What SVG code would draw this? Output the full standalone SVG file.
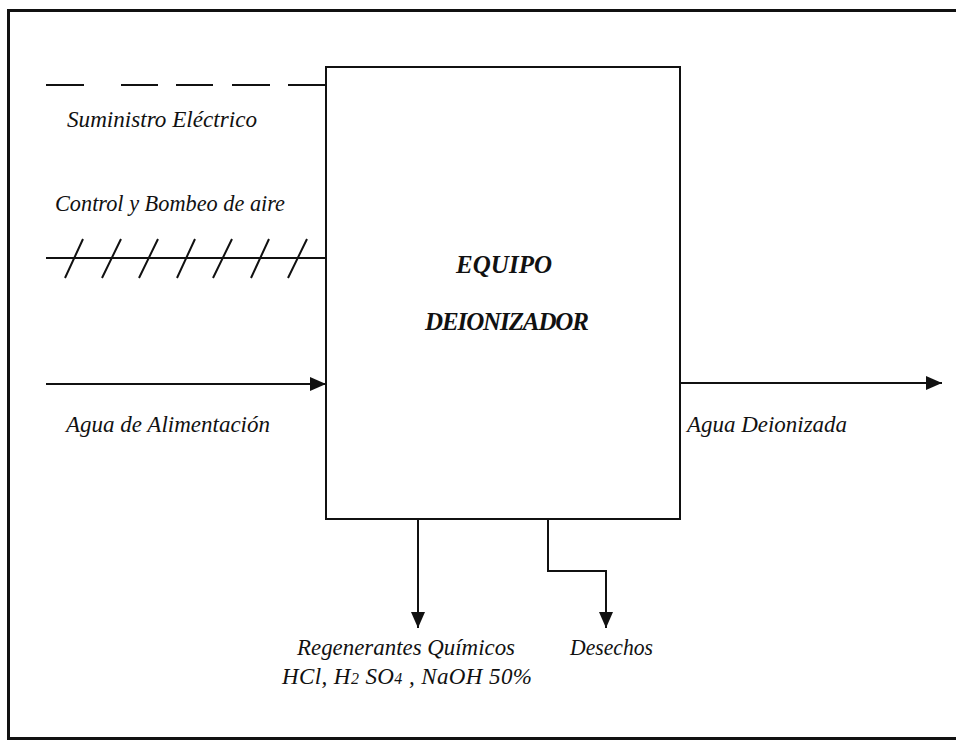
<svg xmlns="http://www.w3.org/2000/svg" width="956" height="740" viewBox="0 0 956 740">
<style>
.ln{stroke:#111;stroke-width:2;fill:none}
.lbl{font-family:"Liberation Serif","Times New Roman",serif;font-style:italic;font-size:23px;fill:#111}
.ttl{font-family:"Liberation Serif","Times New Roman",serif;font-style:italic;font-weight:bold;font-size:25px;fill:#111}
</style>
<defs>
<marker id="ah" markerWidth="16" markerHeight="14" refX="16" refY="7" orient="auto" markerUnits="userSpaceOnUse">
<path d="M0,0 L16,7 L0,14 Z" fill="#111"/>
</marker>
</defs>
<rect x="0" y="0" width="956" height="740" fill="#fff"/>
<rect id="frame" x="8.5" y="10.5" width="952" height="728" fill="none" stroke="#111" stroke-width="3"/>
<g id="equipo">
<rect x="326" y="67" width="354" height="452" class="ln"/>
<text class="ttl" x="504" y="273" text-anchor="middle" textLength="96">EQUIPO</text>
<text class="ttl" x="507" y="330" text-anchor="middle" textLength="164">DEIONIZADOR</text>
</g>
<g id="connectors">
<g id="suministro">
<path class="ln" d="M46,85H84M121,85H158M176,85H213M232,85H270M288,85H326"/>
</g>
<g id="control">
<path class="ln" d="M46,258H326"/>
<path class="ln" d="M65,278L83,239M102,278L121,239M139,278L158,239M177,278L195,239M213,278L232,239M251,278L269,239M288,278L307,239"/>
</g>
<path id="agua-in" class="ln" d="M46,384H326" marker-end="url(#ah)"/>
<path id="agua-out" class="ln" d="M680,383H942" marker-end="url(#ah)"/>
<path id="regen" class="ln" d="M418,519V628" marker-end="url(#ah)"/>
<path id="desechos" class="ln" d="M548,519V571H606V628" marker-end="url(#ah)"/>
</g>
<g id="labels">
<text class="lbl" x="67" y="127" textLength="190" lengthAdjust="spacingAndGlyphs">Suministro Eléctrico</text>
<text class="lbl" x="55" y="211" textLength="230" lengthAdjust="spacingAndGlyphs">Control y Bombeo de aire</text>
<text class="lbl" x="66" y="432" textLength="204" lengthAdjust="spacingAndGlyphs">Agua de Alimentación</text>
<text class="lbl" x="687" y="432" textLength="160" lengthAdjust="spacingAndGlyphs">Agua Deionizada</text>
<text class="lbl" x="297" y="655" textLength="218" lengthAdjust="spacingAndGlyphs">Regenerantes Químicos</text>
<text class="lbl" x="282" y="684" textLength="250">HCl,  H<tspan font-size="16">2</tspan> SO<tspan font-size="16">4</tspan>  , NaOH 50%</text>
<text class="lbl" x="570" y="655" textLength="83" lengthAdjust="spacingAndGlyphs">Desechos</text>
</g>
</svg>
